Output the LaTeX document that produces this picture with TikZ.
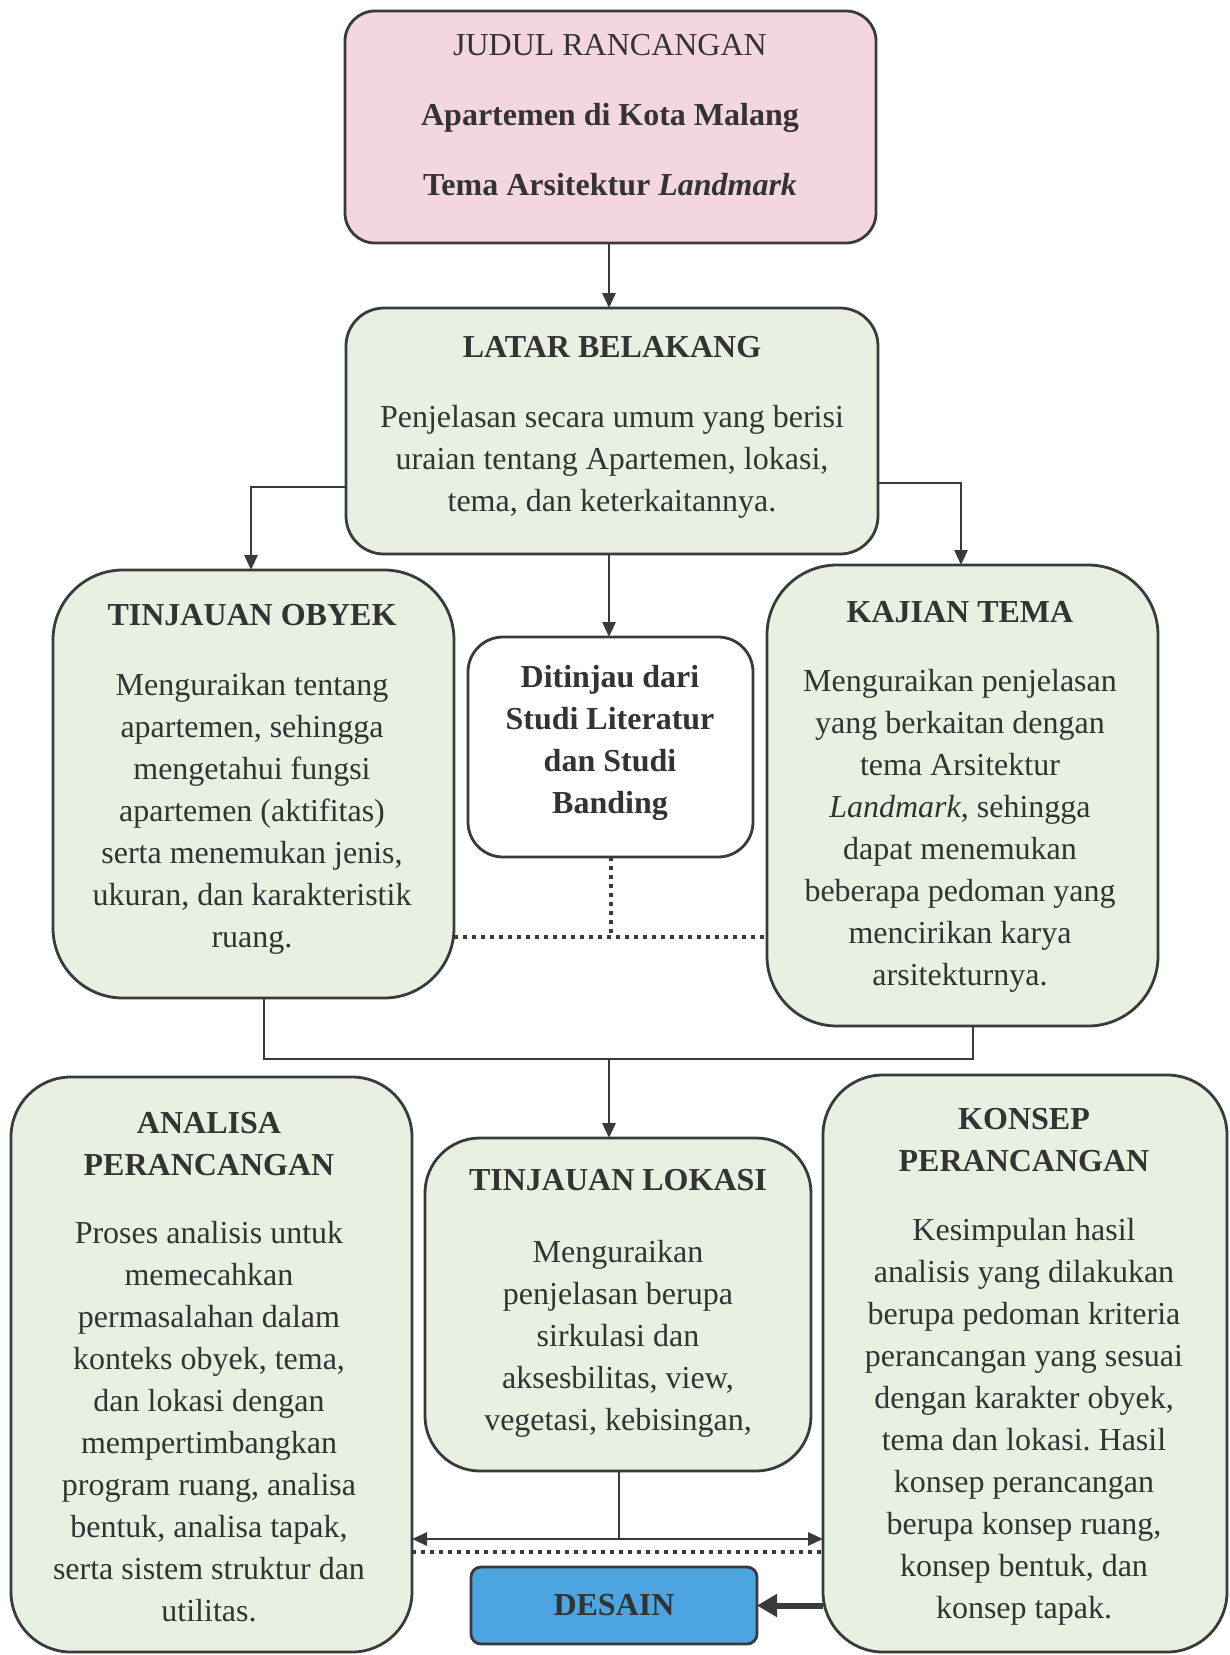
\documentclass[tikz,border=0pt]{standalone}
\usepackage{fontspec}
\setmainfont{Liberation Serif}
\usetikzlibrary{arrows.meta,calc}
\definecolor{pinkfill}{HTML}{F3D6E0}
\definecolor{greenfill}{HTML}{E7F0E1}
\definecolor{bluefill}{HTML}{4CA5E0}
\definecolor{ink}{HTML}{333333}
\definecolor{edge}{HTML}{3A3A3A}
\frenchspacing
\begin{document}
\begin{tikzpicture}[x=1pt,y=-1pt,
  boxstyle/.style={draw=edge,line width=2.8pt,inner sep=0pt,outer sep=0pt},
  txt/.style={text=ink,align=center,inner sep=0pt,font=\fontsize{32}{42}\selectfont\frenchspacing},
  conn/.style={draw=edge,line width=2.8pt},
  arr/.style={conn,-{Triangle[length=15pt,width=13pt]}},
  dots/.style={draw=edge,line width=3.5pt,dash pattern=on 3.5pt off 5.5pt}]
\useasboundingbox (0,0) rectangle (1230,1655);
\fill[white] (0,0) rectangle (1230,1655);

% boxes
\node[boxstyle,fill=pinkfill,rounded corners=30pt,minimum width=531pt,minimum height=232pt] (judul) at (610.5,127) {};
\node[boxstyle,fill=greenfill,rounded corners=38pt,minimum width=532pt,minimum height=246pt] (latar) at (612,431) {};
\node[boxstyle,fill=greenfill,rounded corners=70pt,minimum width=401pt,minimum height=428pt] (obyek) at (253.5,784) {};
\node[boxstyle,fill=white,rounded corners=35pt,minimum width=285pt,minimum height=220pt] (ditinjau) at (610.5,747) {};
\node[boxstyle,fill=greenfill,rounded corners=70pt,minimum width=391pt,minimum height=461pt] (kajian) at (962.5,795.5) {};
\node[boxstyle,fill=greenfill,rounded corners=60pt,minimum width=401pt,minimum height=575pt] (analisa) at (211.5,1364.5) {};
\node[boxstyle,fill=greenfill,rounded corners=55pt,minimum width=386pt,minimum height=333pt] (lokasi) at (618,1304.5) {};
\node[boxstyle,fill=greenfill,rounded corners=60pt,minimum width=404pt,minimum height=577pt] (konsep) at (1025,1363.5) {};
\node[boxstyle,fill=bluefill,rounded corners=10pt,minimum width=286pt,minimum height=77pt] (desain) at (614,1605.5) {};

% texts
\node[txt] (tjudul) at (610,117.5) {\strut JUDUL RANCANGAN\\[28pt]
  \strut\textbf{Apartemen di Kota Malang}\\[28pt]
  \strut\textbf{Tema Arsitektur \textit{Landmark}}};
\node[txt] (tlatar) at (612,426) {\strut\textbf{LATAR BELAKANG}\\[28pt]
  \strut Penjelasan secara umum yang berisi\\
  \strut uraian tentang Apartemen, lokasi,\\
  \strut tema, dan keterkaitannya.};
\node[txt] (tobyek) at (252,778) {\strut\textbf{TINJAUAN OBYEK}\\[28pt]
  \strut Menguraikan tentang\\
  \strut apartemen, sehingga\\
  \strut mengetahui fungsi\\
  \strut apartemen (aktifitas)\\
  \strut serta menemukan jenis,\\
  \strut ukuran, dan karakteristik\\
  \strut ruang.};
\node[txt] (tditinjau) at (610,742.5) {\strut\textbf{Ditinjau dari}\\
  \strut\textbf{Studi Literatur}\\
  \strut\textbf{dan Studi}\\
  \strut\textbf{Banding}};
\node[txt] (tkajian) at (960,795.5) {\strut\textbf{KAJIAN TEMA}\\[27pt]
  \strut Menguraikan penjelasan\\
  \strut yang berkaitan dengan\\
  \strut tema Arsitektur\\
  \strut\textit{Landmark}, sehingga\\
  \strut dapat menemukan\\
  \strut beberapa pedoman yang\\
  \strut mencirikan karya\\
  \strut arsitekturnya.};
\node[txt] (tanalisa) at (209,1369.5) {\strut\textbf{ANALISA}\\
  \strut\textbf{PERANCANGAN}\\[26pt]
  \strut Proses analisis untuk\\
  \strut memecahkan\\
  \strut permasalahan dalam\\
  \strut konteks obyek, tema,\\
  \strut dan lokasi dengan\\
  \strut mempertimbangkan\\
  \strut program ruang, analisa\\
  \strut bentuk, analisa tapak,\\
  \strut serta sistem struktur dan\\
  \strut utilitas.};
\node[txt] (tlokasi) at (618,1302.5) {\strut\textbf{TINJAUAN LOKASI}\\[30pt]
  \strut Menguraikan\\
  \strut penjelasan berupa\\
  \strut sirkulasi dan\\
  \strut aksesbilitas, view,\\
  \strut vegetasi, kebisingan,};
\node[txt] (tkonsep) at (1024,1365.5) {\strut\textbf{KONSEP}\\
  \strut\textbf{PERANCANGAN}\\[27pt]
  \strut Kesimpulan hasil\\
  \strut analisis yang dilakukan\\
  \strut berupa pedoman kriteria\\
  \strut perancangan yang sesuai\\
  \strut dengan karakter obyek,\\
  \strut tema dan lokasi. Hasil\\
  \strut konsep perancangan\\
  \strut berupa konsep ruang,\\
  \strut konsep bentuk, dan\\
  \strut konsep tapak.};
\node[txt] (tdesain) at (614,1605.5) {\textbf{DESAIN}};

% connectors
\draw[arr] (judul.south -| 609,0) -- (latar.north -| 609,0);
\draw[arr] ([yshift=-56pt]latar.west) -| ([xshift=-2.5pt]obyek.north);
\draw[arr] ([yshift=-52pt]latar.east) -| ([xshift=-1.5pt]kajian.north);
\draw[arr] (latar.south -| 609,0) -- (ditinjau.north -| 609,0);

\coordinate (dj) at (611,937);
\draw[dots] (ditinjau.south -| dj) -- (dj);
\draw[dots] (obyek.east |- dj) -- (kajian.west |- dj);

\coordinate (jn) at (609,1059);
\draw[conn] ([xshift=10.5pt]obyek.south) |- (jn) -| ([xshift=10.5pt]kajian.south);
\draw[arr] (jn) -- (jn |- lokasi.north);

\coordinate (ha) at (619,1539);
\draw[conn] (lokasi.south -| ha) -- (ha);
\draw[conn,{Triangle[length=15pt,width=13pt]}-{Triangle[length=15pt,width=13pt]}] (analisa.east |- ha) -- (konsep.west |- ha);
\coordinate (hd) at (619,1552);
\draw[dots] (analisa.east |- hd) -- (konsep.west |- hd);

\draw[draw=edge,line width=6pt,-{Triangle[length=20pt,width=22pt]}] (konsep.west |- desain.east) -- (desain.east);
\end{tikzpicture}
\end{document}
